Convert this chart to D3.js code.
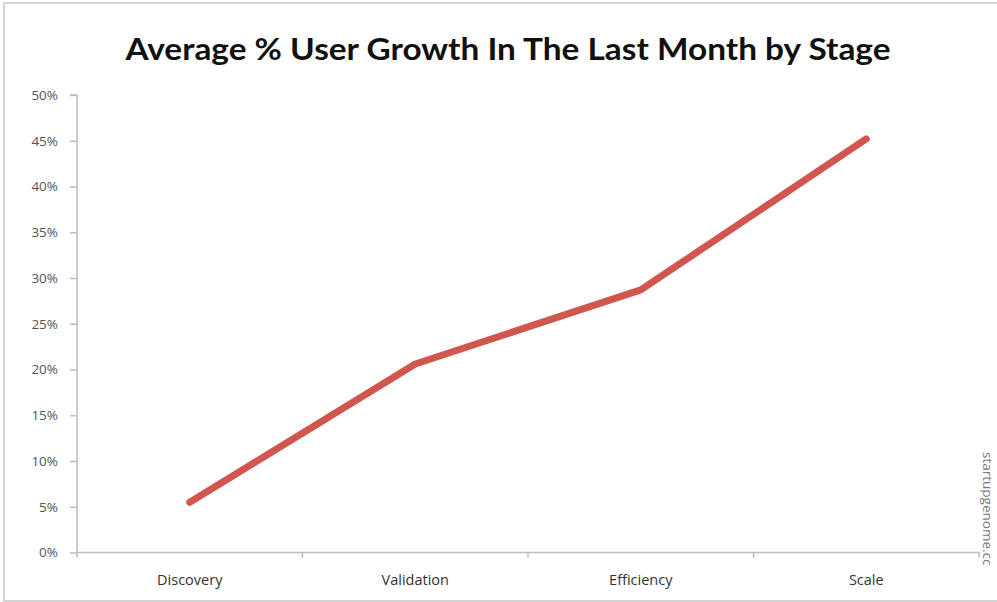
<!DOCTYPE html>
<html>
<head>
<meta charset="utf-8">
<script src="https://cdn.jsdelivr.net/npm/d3@7"></script>
<style>
html,body{margin:0;padding:0;background:#fff;}
svg{display:block;}
</style>
</head>
<body>
<svg id="chart" width="997" height="602"></svg>
<script>
const categories = ["Discovery", "Validation", "Efficiency", "Scale"];
const growthValues = [0.055, 0.206, 0.287, 0.452];
const yTickValues = [0, 0.05, 0.10, 0.15, 0.20, 0.25, 0.30, 0.35, 0.40, 0.45, 0.50];
const titleText = "Average % User Growth In The Last Month by Stage";
const sourceText = "startupgenome.cc";

const svg = d3.select("#chart");
const W = 997, H = 602;
const m = {left: 77, right: 18, top: 95, bottom: 49.5};

// frame
svg.append("rect").attr("x", 4).attr("y", 3).attr("width", W + 10).attr("height", H - 4)
  .attr("fill", "#fff").attr("stroke", "#d4d4d4").attr("stroke-width", 2);

const x = d3.scaleBand().domain(categories).range([m.left, W - m.right]).paddingInner(0).paddingOuter(0);
const y = d3.scaleLinear().domain([0, 0.5]).range([H - m.bottom, m.top]);

// title
svg.append("text").attr("x", 508).attr("y", 60).attr("text-anchor", "middle")
  .attr("font-family", "Lato, 'Open Sans', sans-serif").attr("font-weight", "bold")
  .attr("font-size", 30).attr("fill", "#111")
  .attr("textLength", 765).attr("lengthAdjust", "spacingAndGlyphs")
  .text(titleText);

// y axis
const yAxis = svg.append("g").attr("transform", `translate(${m.left},0)`)
  .call(d3.axisLeft(y).tickValues(yTickValues).tickFormat(d3.format(".0%")).tickSize(7).tickPadding(12));
yAxis.select(".domain").attr("stroke", "#bdbdbd").attr("stroke-width", 1.5)
  .attr("d", `M-7,${y(0.5)}H0V${y(0) + 5}`);
yAxis.selectAll(".tick line").attr("stroke", "#bdbdbd").attr("stroke-width", 1.5);
yAxis.selectAll(".tick text").attr("font-family", "'Open Sans', Lato, sans-serif")
  .attr("font-size", 13.5).attr("fill", "#555");

// x axis
const xAxis = svg.append("g").attr("transform", `translate(0,${y(0)})`)
  .call(d3.axisBottom(x).tickSize(0).tickPadding(22));
xAxis.select(".domain").attr("stroke", "#bdbdbd").attr("stroke-width", 1.5)
  .attr("d", `M${m.left},0H${W - m.right}V5`);
xAxis.selectAll(".tick text").attr("font-family", "'Open Sans', Lato, sans-serif")
  .attr("font-size", 14.5).attr("fill", "#333");
// boundary ticks between categories
svg.append("g").selectAll("line").data(categories.slice(1)).join("line")
  .attr("x1", d => x(d)).attr("x2", d => x(d))
  .attr("y1", y(0)).attr("y2", y(0) + 5)
  .attr("stroke", "#bdbdbd").attr("stroke-width", 1.5);

// line
const line = d3.line().x((d, i) => x(categories[i]) + x.bandwidth() / 2).y(d => y(d));
svg.append("path").datum(growthValues).attr("d", line)
  .attr("fill", "none").attr("stroke", "#d0564e").attr("stroke-width", 7)
  .attr("stroke-linecap", "round").attr("stroke-linejoin", "round");

// source watermark
svg.append("text").attr("transform", "translate(983,452) rotate(90)")
  .attr("font-family", "'Open Sans', Lato, sans-serif").attr("font-size", 13.5)
  .attr("fill", "#777").text(sourceText);
</script>
</body>
</html>
